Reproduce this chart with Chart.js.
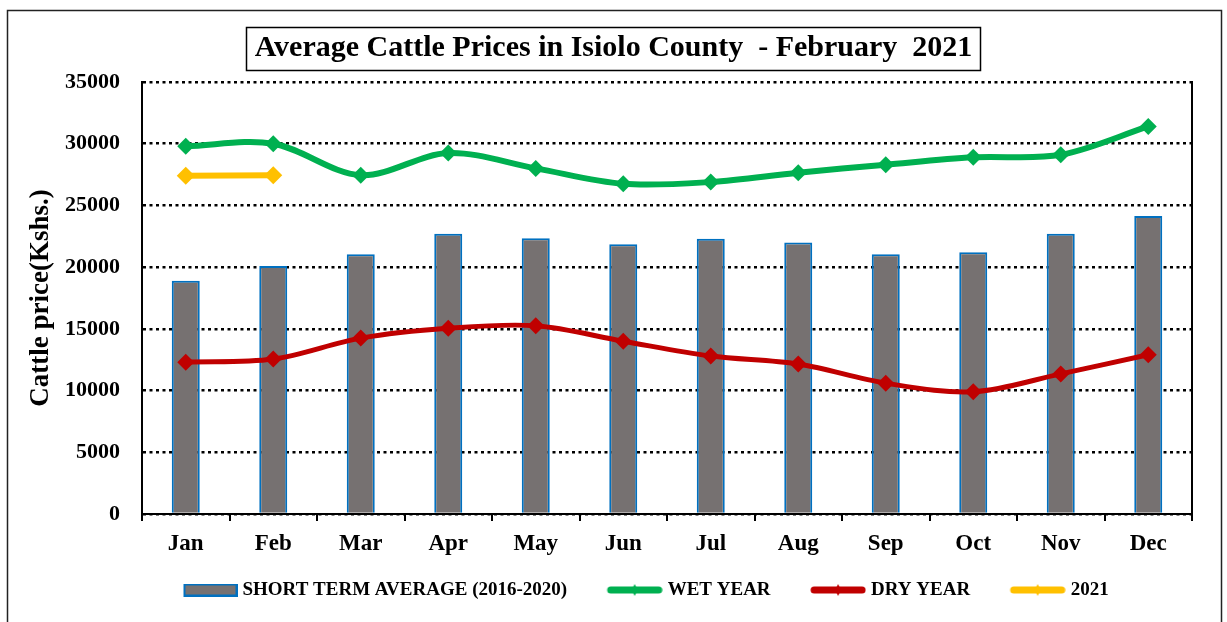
<!DOCTYPE html>
<html><head><meta charset="utf-8">
<script src="https://cdn.jsdelivr.net/npm/chart.js@4.4.1/dist/chart.umd.min.js"></script>
<style>html,body{margin:0;padding:0;background:#fff;}</style>
</head><body>
<canvas id="c" width="1227" height="622" style="display:block;width:1227px;height:622px"></canvas>
<script>
const chartTitle = 'Average Cattle Prices in Isiolo County  - February  2021';
const months = ['Jan','Feb','Mar','Apr','May','Jun','Jul','Aug','Sep','Oct','Nov','Dec'];
const shortTermAvg = [18900,20100,21050,22700,22350,21850,22300,22000,21050,21200,22700,24150];
const wetYear = [29800,30000,27450,29250,28000,26750,26900,27650,28300,28900,29100,31400];
const dryYear = [12300,12550,14250,15050,15250,14000,12800,12150,10600,9900,11350,12900];
const year2021 = [27400,27450,null,null,null,null,null,null,null,null,null,null];
const seriesNames = ['SHORT TERM AVERAGE (2016-2020)','WET YEAR','DRY YEAR','2021'];
const yMin = 0, yMax = 35000, yStep = 5000;

const SERIF = '"Liberation Serif", "Times New Roman", serif';
const GREEN = '#00B050', RED = '#C00000', GOLD = '#FFC000', GREY = '#767171', BLUE = '#0070C0';
const SW_BOX = 88;            // legend box width used for spacing
const SW_IMG = SW_BOX + 9;    // swatch image width (visible part drawn at its right end)

function barSwatch() {
  const c = document.createElement('canvas'); c.width = SW_IMG; c.height = 13;
  const x = c.getContext('2d'); const o = SW_IMG - 54;
  x.fillStyle = GREY; x.fillRect(o + 1, 1, 52, 11);
  x.strokeStyle = BLUE; x.lineWidth = 2; x.strokeRect(o + 1, 1, 52, 11);
  return c;
}
function lineSwatch(color) {
  const c = document.createElement('canvas'); c.width = SW_IMG; c.height = 16;
  const x = c.getContext('2d'); const o = SW_IMG - 56;
  x.strokeStyle = color; x.lineWidth = 7; x.lineCap = 'round';
  x.beginPath(); x.moveTo(o + 4, 8); x.lineTo(o + 52, 8); x.stroke();
  x.fillStyle = color; x.beginPath();
  x.moveTo(o + 28, 2); x.lineTo(o + 31, 8); x.lineTo(o + 28, 14); x.lineTo(o + 25, 8); x.closePath(); x.fill();
  return c;
}
const swatches = [barSwatch(), lineSwatch(GREEN), lineSwatch(RED), lineSwatch(GOLD)];

const framePlugin = {
  id: 'frame',
  beforeDraw(chart) {
    const ctx = chart.ctx; ctx.save();
    ctx.fillStyle = '#fff'; ctx.fillRect(0, 0, chart.width, chart.height);
    ctx.restore();
  },
  afterDraw(chart) {
    const ctx = chart.ctx; ctx.save();
    ctx.strokeStyle = '#222'; ctx.lineWidth = 1.5;
    ctx.strokeRect(7.5, 10.5, 1214, 640);
    ctx.font = 'bold 30px ' + SERIF;
    const w = ctx.measureText(chartTitle).width;
    const cx = chart.width / 2;
    ctx.lineWidth = 1.5; ctx.strokeStyle = '#000';
    ctx.strokeRect(Math.round(cx - w / 2 - 9) + 0.5, 27.5, Math.round(w + 16), 43);
    ctx.restore();
  }
};

new Chart(document.getElementById('c'), {
  type: 'bar',
  data: {
    labels: months,
    datasets: [
      { type: 'bar', label: seriesNames[0], data: shortTermAvg, backgroundColor: GREY, borderColor: BLUE,
        borderWidth: 2, barPercentage: 0.32, categoryPercentage: 1, order: 3 },
      { type: 'line', label: seriesNames[1], data: wetYear, borderColor: GREEN, backgroundColor: GREEN,
        borderWidth: 6, tension: 0.33, pointStyle: 'rectRot', pointRadius: 8.5, pointBorderWidth: 0, order: 1 },
      { type: 'line', label: seriesNames[2], data: dryYear, borderColor: RED, backgroundColor: RED,
        borderWidth: 5, tension: 0.33, pointStyle: 'rectRot', pointRadius: 8.5, pointBorderWidth: 0, order: 1 },
      { type: 'line', label: seriesNames[3], data: year2021, borderColor: GOLD, backgroundColor: GOLD,
        borderWidth: 6, tension: 0.33, pointStyle: 'rectRot', pointRadius: 9, pointBorderWidth: 0, order: 0 }
    ]
  },
  options: {
    responsive: false,
    animation: false,
    devicePixelRatio: 1,
    layout: { padding: { left: 20, right: 20, top: 0, bottom: 12.5 } },
    plugins: {
      tooltip: { enabled: false },
      title: {
        display: true, text: chartTitle, color: '#000',
        font: { family: SERIF, size: 30, weight: 'bold' },
        padding: { top: 30.5, bottom: 15.5 }
      },
      legend: {
        display: true, position: 'bottom', align: 'start', fullSize: false,
        labels: {
          usePointStyle: true, pointStyleWidth: SW_BOX, padding: 3, color: '#000',
          font: { family: SERIF, size: 19, weight: 'bold' },
          generateLabels(chart) {
            return chart.data.datasets.map((ds, i) => ({
              text: ds.label, pointStyle: swatches[i], fillStyle: 'rgba(0,0,0,0)',
              strokeStyle: 'rgba(0,0,0,0)', lineWidth: 0, hidden: false, datasetIndex: i, fontColor: '#000'
            }));
          }
        }
      }
    },
    scales: {
      x: {
        grid: { display: true, drawOnChartArea: false, drawTicks: true, tickLength: 7, color: '#000', lineWidth: 2, offset: true },
        border: { display: true, color: '#000', width: 2 },
        ticks: { color: '#000', font: { family: SERIF, size: 23, weight: 'bold' }, padding: 9, maxRotation: 0 },
        afterFit(scale) { scale.height = 63.5; }
      },
      y: {
        min: yMin, max: yMax,
        ticks: { stepSize: yStep, color: '#000', font: { family: SERIF, size: 22, weight: 'bold' }, padding: 22,
          callback: (v) => String(v) },
        grid: { color: '#000', lineWidth: 2.5, drawTicks: false },
        border: { display: true, color: '#000', width: 2, dash: [3, 3.5] },
        title: { display: true, text: 'Cattle price(Kshs.)', color: '#000',
          font: { family: SERIF, size: 27, weight: 'bold' }, padding: { top: 5, bottom: 0 } },
        afterFit(scale) { scale.width = 122; }
      },
      yRight: {
        type: 'linear', position: 'right', display: true,
        grid: { drawOnChartArea: false, drawTicks: false },
        ticks: { display: false },
        border: { display: true, color: '#000', width: 2 },
        afterFit(scale) { scale.width = 15; }
      }
    }
  },
  plugins: [framePlugin]
});
</script>
</body></html>
